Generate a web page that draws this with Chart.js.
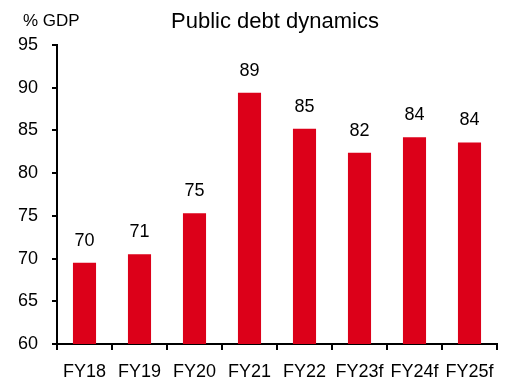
<!DOCTYPE html>
<html><head><meta charset="utf-8">
<script src="https://cdn.jsdelivr.net/npm/chart.js@4"></script>
<style>html,body{margin:0;padding:0;background:#fff}#wrap{width:507px;height:386px}</style>
</head><body><div id="wrap"><canvas id="c" width="507" height="386"></canvas></div>
<script>
const categories = ["FY18","FY19","FY20","FY21","FY22","FY23f","FY24f","FY25f"];
const debtValues = [69.5, 70.5, 75.3, 89.4, 85.2, 82.4, 84.2, 83.6];
const yTicks = [60, 65, 70, 75, 80, 85, 90, 95];
const chartTitle = "Public debt dynamics";
const unitLabel = "% GDP";

const FONT = "'Liberation Sans', Arial, sans-serif";

const labelPlugin = {
  id: 'labels',
  afterDatasetsDraw(chart) {
    const ctx = chart.ctx;
    const meta = chart.getDatasetMeta(0);
    ctx.save();
    ctx.font = "18px " + FONT;
    ctx.fillStyle = "#000";
    ctx.textAlign = "center";
    ctx.textBaseline = "alphabetic";
    meta.data.forEach((bar, i) => {
      ctx.fillText(Math.round(debtValues[i]).toString(), bar.x, bar.y - 17);
    });
    ctx.font = "22px " + FONT;
    ctx.fillText(chartTitle, 275, 28);
    ctx.font = "17px " + FONT;
    ctx.textAlign = "left";
    ctx.fillText(unitLabel, 23, 26);
    ctx.restore();
  }
};

new Chart(document.getElementById('c'), {
  type: 'bar',
  data: {
    labels: categories,
    datasets: [{
      data: debtValues,
      backgroundColor: '#DC0019',
      borderWidth: 0,
      categoryPercentage: 1,
      barPercentage: 0.42
    }]
  },
  options: {
    responsive: false,
    animation: false,
    layout: { padding: { top: 45, right: 10, left: 0, bottom: 0 } },
    plugins: { legend: { display: false }, tooltip: { enabled: false }, title: { display: false } },
    scales: {
      x: {
        offset: true,
        grid: { offset: true, drawOnChartArea: false, drawTicks: true, tickLength: 6, color: '#000', lineWidth: 2 },
        border: { color: '#000', width: 2 },
        ticks: { color: '#000', font: { size: 18, family: FONT }, padding: 11, maxRotation: 0, autoSkip: false },
        afterFit(scale) { scale.height = 42; }
      },
      y: {
        min: 60, max: 95,
        afterBuildTicks(scale) { scale.ticks = yTicks.map(v => ({ value: v })); },
        grid: { drawOnChartArea: false, drawTicks: true, tickLength: 5, color: '#000', lineWidth: 2 },
        border: { color: '#000', width: 2 },
        ticks: { color: '#000', font: { size: 18, family: FONT }, padding: 14 },
        afterFit(scale) { scale.width = 57; }
      }
    }
  },
  plugins: [labelPlugin]
});
</script></body></html>
